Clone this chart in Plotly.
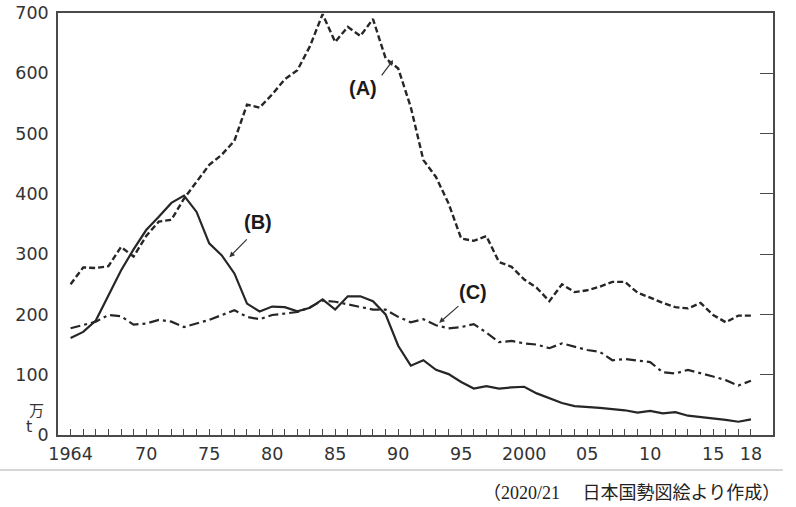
import plotly.graph_objects as go

years = list(range(1964, 2019))

series_a = [250, 278, 277, 280, 312, 296, 330, 354, 357, 392,
            420, 448, 465, 488, 548, 543, 565, 590, 605, 645,
            698, 652, 677, 662, 690, 625, 608, 544, 456, 428,
            384, 326, 322, 330, 287, 279, 258, 244, 222, 250,
            237, 240, 246, 254, 254, 236, 228, 219, 212, 210,
            219, 199, 187, 198, 198]

series_b = [161, 171, 190, 232, 273, 308, 340, 362, 385, 397,
            370, 318, 298, 268, 218, 205, 213, 212, 205, 211,
            225, 208, 230, 230, 222, 200, 148, 115, 124, 108,
            101, 88, 77, 81, 77, 79, 80, 69, 61, 53,
            48, 47, 45, 43, 41, 37, 40, 36, 38, 32,
            30, 28, 25, 22, 26]

series_c = [177, 182, 188, 199, 197, 183, 185, 191, 188, 179,
            185, 191, 199, 207, 196, 192, 199, 202, 204, 212,
            223, 221, 217, 212, 208, 208, 196, 187, 192, 182,
            177, 179, 184, 170, 154, 156, 152, 150, 144, 152,
            146, 141, 138, 124, 126, 123, 121, 104, 102, 108,
            103, 97, 91, 82, 90]

y_tick_vals = [0, 100, 200, 300, 400, 500, 600, 700]
right_tick_vals = [100, 200, 300, 400, 500, 600]
x_label_map = {1964: "1964", 1970: "70", 1975: "75", 1980: "80", 1985: "85",
               1990: "90", 1995: "95", 2000: "2000", 2005: "05", 2010: "10",
               2015: "15", 2018: "18"}
x_tick_text = [x_label_map.get(y, "") for y in years]

series_names = ["(A)", "(B)", "(C)"]
source_text = "（2020/21\u3000 日本国勢図絵より作成）"

ink = "#262626"
axis_col = "#4a4a4a"
tick_font = dict(family="DejaVu Sans, Liberation Sans, sans-serif", size=17.5, color="#333333")

fig = go.Figure()
fig.add_trace(go.Scatter(x=years, y=series_a, mode="lines", name=series_names[0],
                         line=dict(color=ink, width=2.4, dash="6px,3px")))
fig.add_trace(go.Scatter(x=years, y=series_b, mode="lines", name=series_names[1],
                         line=dict(color=ink, width=2.2)))
fig.add_trace(go.Scatter(x=years, y=series_c, mode="lines", name=series_names[2],
                         line=dict(color=ink, width=2.2, dash="10px,4px,3px,4px")))
# invisible trace to activate the right-hand tick axis
fig.add_trace(go.Scatter(x=[years[0]], y=[y_tick_vals[0]], yaxis="y2", mode="markers",
                         marker=dict(opacity=0), hoverinfo="skip", showlegend=False))

fig.update_layout(
    width=796, height=507,
    margin=dict(l=58, r=23, t=13, b=72),
    paper_bgcolor="white", plot_bgcolor="white",
    showlegend=False,
    xaxis=dict(range=[1963.0, 2019.75], tickmode="array", tickvals=years, ticktext=x_tick_text,
               ticks="inside", ticklen=6, tickwidth=1.2, tickcolor=axis_col,
               showline=True, linecolor=axis_col, linewidth=1.6, mirror=True,
               showgrid=False, zeroline=False, tickfont=tick_font, ticklabelstandoff=2,
               automargin=False),
    yaxis=dict(range=[0, 700], tickmode="array", tickvals=y_tick_vals,
               ticks="", showline=True, linecolor=axis_col, linewidth=1.6, mirror=True,
               showgrid=False, zeroline=False, tickfont=tick_font, ticklabelstandoff=4,
               automargin=False),
    yaxis2=dict(range=[0, 700], overlaying="y", side="right", tickmode="array",
                tickvals=right_tick_vals, ticks="inside", ticklen=13, tickwidth=1.2,
                tickcolor=axis_col, showticklabels=False, showline=False,
                showgrid=False, zeroline=False, automargin=False),
)

label_font = dict(family="Liberation Sans Narrow, Arial Narrow, Liberation Sans, sans-serif",
                  size=20, color="#1a1a1a")

# (text position, arrow tail, arrow tip) in data coordinates
label_specs = [
    (series_names[0], (1987.2, 575), (1988.6, 594), (1989.6, 622)),
    (series_names[1], (1978.9, 353), (1978.1, 327), (1976.6, 295)),
    (series_names[2], (1995.9, 237), (1994.9, 216), (1993.25, 186)),
]
for name, (tx, ty), (axx, ayy), (hx, hy) in label_specs:
    fig.add_annotation(x=tx, y=ty, xref="x", yref="y", text="<b>" + name + "</b>",
                       showarrow=False, font=label_font)
    fig.add_annotation(x=hx, y=hy, ax=axx, ay=ayy, xref="x", yref="y", axref="x", ayref="y",
                       text="", showarrow=True, arrowhead=2, arrowsize=0.9,
                       arrowwidth=1.2, arrowcolor="#333333")

# unit label
fig.add_annotation(x=-0.043, y=42, xref="paper", yref="y", text="万", showarrow=False,
                   font=dict(family="Noto Sans CJK JP", size=15, color="#333333"))
fig.add_annotation(x=-0.047, y=14, xref="paper", yref="y", text="t", showarrow=False,
                   font=dict(family="DejaVu Sans", size=16, color="#333333"))

# separator line and source
fig.add_shape(type="line", xref="paper", yref="paper", x0=-0.082, x1=1.014, y0=-0.083, y1=-0.083,
              line=dict(color="#c8c8c8", width=1.5))
fig.add_annotation(x=1.012, y=-0.137, xref="paper", yref="paper", xanchor="right", yanchor="middle",
                   text=source_text, showarrow=False,
                   font=dict(family="Liberation Serif, Noto Sans CJK JP, serif", size=18, color="#222222"))

fig.write_html("out.html", config={"displayModeBar": False},
               post_script="document.body.style.margin='0';document.body.style.padding='0';")
